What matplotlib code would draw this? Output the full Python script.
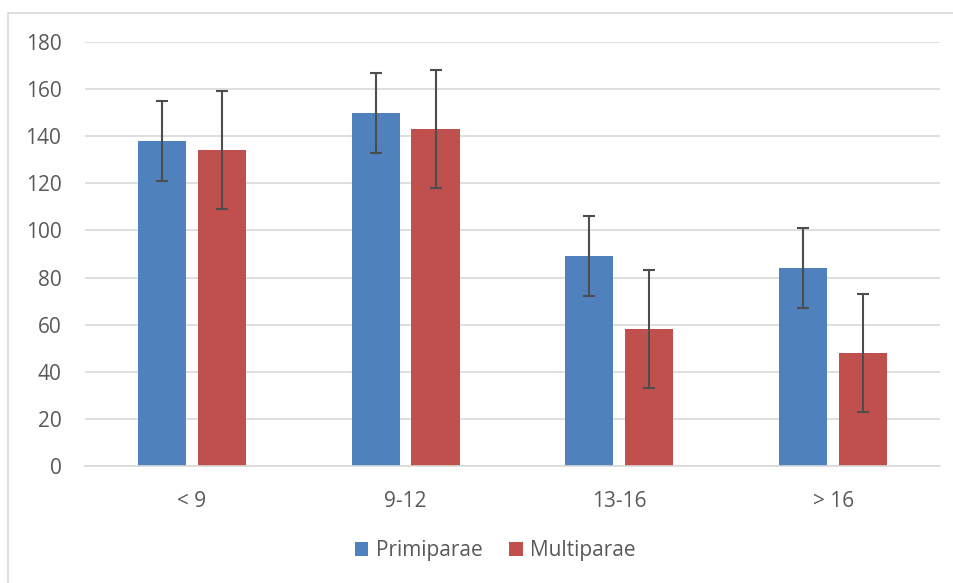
import matplotlib.pyplot as plt
import numpy as np
from matplotlib.patches import Rectangle

groups = ['< 9', '9-12', '13-16', '> 16']
primiparae = [138, 150, 89, 84]
multiparae = [134, 143, 58, 48]
prim_err = [17, 17, 17, 17]
multi_err = [25, 25, 25, 25]

plt.rcParams['font.family'] = ['Open Sans', 'DejaVu Sans']
txt = '#595959'

fig = plt.figure(figsize=(9.54, 5.83), dpi=100)
ax = fig.add_axes([0.0891, 0.2007, 0.8962, 0.7273])

# outer chart border
fig.patches.append(Rectangle((8/954, -0.05), 1.0, 1 - 13/583 + 0.05, transform=fig.transFigure,
                             fill=False, edgecolor='#D9D9D9', linewidth=1.2))

x = np.arange(len(groups))
w = 0.225
off = 0.14
ekw = dict(ecolor='#4D4D4D', elinewidth=1.5, capsize=4.5, capthick=1.5)
ax.bar(x - off, primiparae, w, color='#4F81BD', label='Primiparae', yerr=prim_err, error_kw=ekw, zorder=2)
ax.bar(x + off, multiparae, w, color='#C0504D', label='Multiparae', yerr=multi_err, error_kw=ekw, zorder=2)

ax.set_xlim(-0.5, 3.5)
ax.set_ylim(0, 180)
ax.set_yticks(range(0, 181, 20))
ax.set_xticks(x)
ax.set_xticklabels(groups)
ax.yaxis.grid(True, color='#D9D9D9', linewidth=1.2, zorder=0)
ax.set_axisbelow(True)
for s in ['top', 'right', 'left']:
    ax.spines[s].set_visible(False)
ax.spines['bottom'].set_color('#D9D9D9')
ax.spines['bottom'].set_linewidth(1.2)
ax.tick_params(axis='both', length=0, labelsize=15, colors=txt)
ax.tick_params(axis='x', pad=18)
ax.tick_params(axis='y', pad=17)

leg = ax.legend(loc='center', bbox_to_anchor=(0.48, -0.2), ncol=2, frameon=False,
                fontsize=15, handlelength=0.65, handleheight=0.65, handletextpad=0.35,
                columnspacing=1.3)
for t in leg.get_texts():
    t.set_color(txt)

fig.savefig('out.png', dpi=100)
